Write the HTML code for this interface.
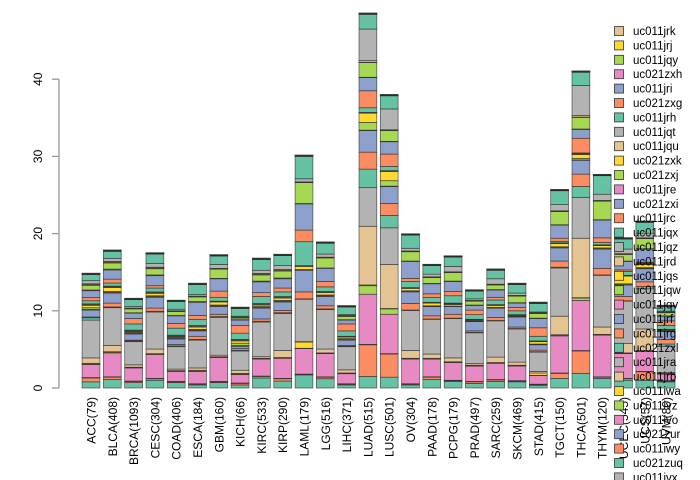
<!DOCTYPE html>
<html><head><meta charset="utf-8"><style>
body{margin:0;background:#fff;}
svg{display:block;font-family:"Liberation Sans",sans-serif;}
</style></head><body>
<svg id="chart" width="700" height="480"></svg>
<script>
const categories=["ACC(79)","BLCA(408)","BRCA(1093)","CESC(304)","COAD(406)","ESCA(184)","GBM(160)","KICH(66)","KIRC(533)","KIRP(290)","LAML(179)","LGG(516)","LIHC(371)","LUAD(515)","LUSC(501)","OV(304)","PAAD(178)","PCPG(179)","PRAD(497)","SARC(259)","SKCM(469)","STAD(415)","TGCT(150)","THCA(501)","THYM(120)","UCEC(545)","UCS(57)","UVM(80)"];
const seriesNames=["uc021zuq","uc011iwy","uc021zur","uc011ivo","uc011ivz","uc011iwa","uc011jrb","uc011jra","uc021zxl","uc011jrg","uc011jrf","uc011jqv","uc011jqw","uc011jqs","uc011jrd","uc011jqz","uc011jqx","uc011jrc","uc021zxi","uc011jre","uc021zxj","uc021zxk","uc011jqu","uc011jqt","uc011jrh","uc021zxg","uc011jri","uc021zxh","uc011jqy","uc011jrj","uc011jrk"];
const palette=["#66C2A5","#FC8D62","#8DA0CB","#E78AC3","#A6D854","#FFD92F","#E5C494","#B3B3B3"];
const yTicks=[0,10,20,30,40];
const ACC=[.8,.5,.05,1.7,.05,.1,.7,4.9,.3,.1,.9,.1,.2,.3,.1,.1,.4,.4,.9,.1,.6,.1,.1,.4,.8,.03,.03,.03,.03,.03,.03];
const BLCA=[1.1,.3,.05,3.1,.05,.1,.8,4.9,.1,.5,1.3,.1,.1,.5,.1,.1,.4,.5,1.2,.1,.8,.1,.1,.4,.9,.03,.03,.03,.03,.03,.03];
const BRCA=[.7,.15,.05,1.7,.05,.05,.3,3.0,.1,.1,.8,.1,.1,.1,.1,.1,.8,.7,.7,.05,.5,.05,.05,.2,.9,.03,.03,.03,.03,.03,.03];
const CESC=[1.0,.2,.05,3.1,.05,.05,.6,4.8,.1,.4,1.4,.1,.1,.3,.1,.1,.5,.3,1.3,.1,.8,.1,.1,.5,1.2,.03,.03,.03,.03,.03,.03];
const COAD=[.7,.1,.05,1.3,.05,.05,.2,2.9,.1,.2,.7,.1,.1,.1,.1,.1,.9,.6,1.0,.05,.5,.05,.05,.2,1.0,.03,.03,.03,.03,.03,.03];
const ESCA=[.4,.1,.05,1.6,.05,.1,.3,3.6,.1,.4,.7,.1,.1,.3,.1,.1,.8,.5,1.7,.1,.6,.05,.05,.2,1.3,.03,.03,.03,.03,.03,.03];
const GBM=[.7,.1,.05,3.1,.05,.05,.2,4.9,.1,.3,1.0,.1,.1,.4,.05,.05,.5,.8,1.6,.05,1.2,.05,.05,.5,1.1,.03,.03,.03,.03,.03,.03];
const KICH=[.4,.2,.05,1.1,.05,.1,.4,2.5,.1,.2,.3,.1,.3,.3,.1,.1,.8,1.0,.7,.05,.2,.1,.05,.1,1.0,.03,.03,.03,.03,.03,.03];
const KIRC=[1.3,.2,.05,2.2,.05,.05,.2,4.5,.1,.3,1.4,.1,.1,.2,.1,.1,.9,.5,1.4,.1,.8,.1,.1,.4,1.4,.03,.03,.03,.03,.03,.03];
const KIRP=[.9,.3,.05,2.6,.05,.05,.9,4.8,.1,.3,1.1,.1,.1,.3,.1,.1,.6,.5,1.2,.1,.9,.1,.1,.5,1.3,.03,.03,.03,.03,.03,.03];
const LAML=[1.7,.05,.05,3.3,.05,.8,.05,5.5,.05,.9,2.8,.05,.05,.4,.05,.05,3.1,1.5,3.4,.05,2.7,.05,.05,.4,2.9,.03,.03,.03,.03,.03,.03];
const LGG=[1.2,.2,.05,3.0,.05,.05,.5,5.1,.1,.4,1.2,.1,.1,.3,.1,.05,.6,.7,1.7,.05,1.3,.05,.05,.4,1.4,.03,.03,.03,.03,.03,.03];
const LIHC=[.4,.1,.05,1.3,.05,.05,.4,3.0,.05,.1,.7,.1,.1,.2,.05,.05,.7,.9,.5,.05,.4,.1,.05,.1,1.0,.03,.03,.03,.03,.03,.03];
const LUAD=[1.5,4.1,.05,6.5,1.1,.1,7.6,5.0,2.4,2.2,2.8,.05,1.0,1.2,.05,.05,.6,2.2,1.7,.05,1.9,.05,.2,4.1,1.9,.03,.03,.03,.03,.03,.03];
const LUSC=[1.4,3.0,.05,5.1,.7,.05,5.7,4.75,1.6,1.55,2.2,.05,.7,1.2,.05,.05,.55,1.6,1.6,.05,1.4,.05,.05,2.7,1.7,.03,.03,.03,.03,.03,.03];
const OV=[.4,.1,.05,3.2,.05,.05,1.0,5.2,.05,.85,1.5,.05,.1,.3,.05,.05,.8,.4,2.2,.05,1.2,.05,.05,.35,1.7,.03,.03,.03,.03,.03,.03];
const PAAD=[1.1,.3,.05,2.3,.05,.05,.55,4.5,.05,.4,1.2,.05,.05,.35,.05,.05,.65,.45,1.3,.05,.75,.05,.05,.35,1.1,.03,.03,.03,.03,.03,.03];
const PCPG=[.85,.1,.05,2.3,.05,.05,.5,5.1,.05,.5,1.0,.05,.2,.1,.05,.05,.95,.55,1.3,.05,1.1,.05,.05,.7,1.2,.03,.03,.03,.03,.03,.03];
const PRAD=[.6,.2,.05,2.0,.05,.05,.2,4.0,.05,.2,1.2,.05,.05,.1,.05,.05,.6,.6,.6,.05,.5,.05,.05,.2,1.0,.03,.03,.03,.03,.03,.03];
const SARC=[.85,.2,.05,2.1,.05,.05,.7,4.7,.05,.4,1.2,.05,.05,.25,.05,.05,.6,.35,.95,.05,.6,.05,.05,.7,1.1,.03,.03,.03,.03,.03,.03];
const SKCM=[.8,.1,.05,1.9,.05,.05,.4,4.3,.05,.2,1.3,.05,.05,.1,.05,.05,.5,.45,.55,.05,.85,.05,.05,.3,1.1,.03,.03,.03,.03,.03,.03];
const STAD=[.35,.1,.05,1.1,.05,.3,.2,2.5,.05,.2,.7,.05,.05,.3,.05,.05,.6,1.1,1.2,.05,.6,.05,.05,.1,1.1,.03,.03,.03,.03,.03,.03];
const TGCT=[1.25,.65,.05,4.8,.05,.1,2.4,6.25,.1,.8,1.7,.05,.1,.4,.05,.05,.2,.4,1.7,.05,1.7,.05,.05,.8,1.8,.03,.03,.03,.03,.03,.03];
const THCA=[1.9,2.9,.05,6.5,.3,.05,7.7,5.3,1.4,1.6,1.8,.05,.2,.5,.05,.05,.1,1.9,1.15,.05,1.5,.05,.2,3.9,1.7,.03,.03,.03,.03,.03,.03];
const THYM=[1.25,.15,.05,5.4,.05,.05,.95,6.7,.05,.85,2.5,.05,.1,.3,.05,.05,.3,.6,2.3,.05,2.4,.05,.05,.8,2.4,.03,.03,.03,.03,.03,.03];
const UCEC=[1.0,.2,.05,3.2,.05,.05,1.2,5.5,.05,.55,1.5,.05,.1,1.0,.05,.05,.5,.2,1.1,.05,.85,.05,.05,.6,1.3,.03,.03,.03,.03,.03,.03];
const UCS=[1.0,1.1,.05,2.6,.05,.05,2.8,5.2,.3,.6,1.7,.05,.1,.4,.05,.05,.1,.1,1.7,.05,1.3,.05,.05,.6,1.4,.03,.03,.03,.03,.03,.03];
const UVM=[.8,.1,.05,.85,.05,.05,.1,3.4,.3,.6,1.0,.05,.05,.1,.05,.05,.5,.6,.6,.05,.4,.05,.05,.1,.6,.03,.03,.03,.03,.03,.03];
const barValues=[ACC,BLCA,BRCA,CESC,COAD,ESCA,GBM,KICH,KIRC,KIRP,LAML,LGG,LIHC,LUAD,LUSC,OV,PAAD,PCPG,PRAD,SARC,SKCM,STAD,TGCT,THCA,THYM,UCEC,UCS,UVM];
const legendNames=["uc011jrk","uc011jrj","uc011jqy","uc021zxh","uc011jri","uc021zxg","uc011jrh","uc011jqt","uc011jqu","uc021zxk","uc021zxj","uc011jre","uc021zxi","uc011jrc","uc011jqx","uc011jqz","uc011jrd","uc011jqs","uc011jqw","uc011jqv","uc011jrf","uc011jrg","uc021zxl","uc011jra","uc011jrb","uc011iwa","uc011ivz","uc011ivo","uc021zur","uc011iwy","uc021zuq","uc011jvx"];

const NS="http://www.w3.org/2000/svg";
const svg=document.getElementById('chart');
const y0=388,pxPerUnit=7.72;
function yScale(v){return y0-v*pxPerUnit;}
function xCenter(i){return 91+i*21.3;}
const barW=17.8;
function mk(t,a){const e=document.createElementNS(NS,t);for(const k in a)e.setAttribute(k,a[k]);return e;}

const gBars=mk('g',{});


svg.appendChild(gBars);
categories.forEach((c,i)=>{
  let cum=0;
  const vals=barValues[i];
  seriesNames.forEach((s,j)=>{
    const v=vals[j]||0;
    if(v<=0)return;
    const r=mk('rect',{x:xCenter(i)-barW/2,y:yScale(cum+v),width:barW,height:v*pxPerUnit,fill:palette[j%8],stroke:'#222','stroke-width':0.7,'stroke-opacity':0.75});
    
    
    gBars.appendChild(r);
    cum+=v;
  });
  const t=mk('text',{x:0,y:0,'font-size':12,'text-anchor':'end',fill:'#000',transform:`translate(${xCenter(i)+4.5},397) rotate(-90)`});
  t.textContent=c;
  
  
  svg.appendChild(t);
});

// y axis
const ax=mk('line',{x1:59,y1:yScale(0),x2:59,y2:yScale(40),stroke:'#999','stroke-width':1.3});


svg.appendChild(ax);
yTicks.forEach(v=>{
  const tk=mk('line',{x1:52,y1:yScale(v),x2:59,y2:yScale(v),stroke:'#999','stroke-width':1.3});
  
  
  svg.appendChild(tk);
  const t=mk('text',{x:0,y:0,'font-size':12,'text-anchor':'middle',fill:'#000',transform:`translate(42,${yScale(v)}) rotate(-90)`});
  t.textContent=v;
  
  
  svg.appendChild(t);
});

// legend
const gLeg=mk('g',{});


svg.appendChild(gLeg);
legendNames.forEach((n,k)=>{
  const cy=31+k*14.4;
  const idx=seriesNames.indexOf(n);
  const col=idx>=0?palette[idx%8]:'#B3B3B3';
  const g=mk('g',{});
  
  
  g.appendChild(mk('rect',{x:614.5,y:cy-4.5,width:9,height:9,fill:col,stroke:'#333','stroke-width':0.8}));
  const t=mk('text',{x:633,y:cy+4,'font-size':11.5,fill:'#000'});
  t.textContent=n;
  g.appendChild(t);
  gLeg.appendChild(g);
});
</script>
</body></html>
